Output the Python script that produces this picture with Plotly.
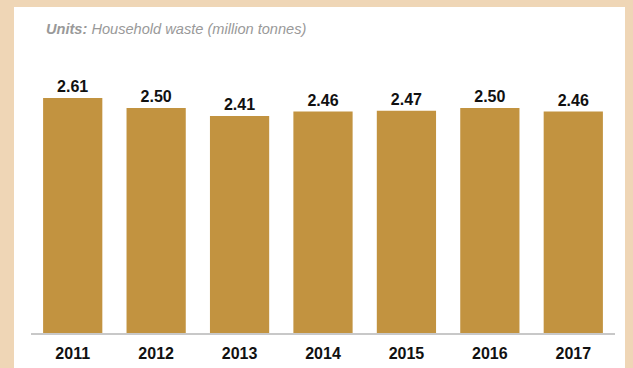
import plotly.graph_objects as go

years = ["2011", "2012", "2013", "2014", "2015", "2016", "2017"]
waste = [2.61, 2.50, 2.41, 2.46, 2.47, 2.50, 2.46]

W, H = 633, 368
L, R, T, B = 31, 18, 72, 35
pw = W - L - R
ph = H - T - B

def px_x(x):
    return (x - L) / pw

def px_y(y):
    return (H - B - y) / ph

FONT = "Arial, Liberation Sans, sans-serif"

fig = go.Figure(go.Bar(
    x=years, y=waste,
    marker=dict(color="#C29340", line=dict(width=0)),
    texttemplate="<b>%{y:.2f}</b>",
    textposition="outside",
    textfont=dict(family=FONT, size=16, color="#111111"),
    cliponaxis=False,
))

fig.add_shape(type="rect", xref="paper", yref="paper",
              x0=px_x(14), x1=px_x(625), y0=px_y(380), y1=px_y(7),
              fillcolor="white", line=dict(width=0), layer="below")

fig.add_annotation(xref="paper", yref="paper", x=px_x(44), y=px_y(29),
                   xanchor="left", yanchor="middle", showarrow=False,
                   text="<b><i>Units:</i></b><i> Household waste (million tonnes)</i>",
                   font=dict(family=FONT, size=14.6, color="#999999"))

fig.update_layout(
    width=W, height=H,
    margin=dict(l=L, r=R, t=T, b=B, pad=0, autoexpand=False),
    paper_bgcolor="#EFD6B6",
    plot_bgcolor="white",
    bargap=0.29,
    showlegend=False,
    xaxis=dict(showline=True, linecolor="#C8C8C8", linewidth=2, showgrid=False,
               ticks="", range=[-0.5, 6.5], ticklabelstandoff=5, automargin=False,
               tickfont=dict(family=FONT, size=16, color="#111111"),
               tickprefix="<b>", ticksuffix="</b>"),
    yaxis=dict(visible=False, range=[0, 2.9]),
)

fig.write_html("out.html", config={"displayModeBar": False},
               post_script="document.body.style.margin='0';")
